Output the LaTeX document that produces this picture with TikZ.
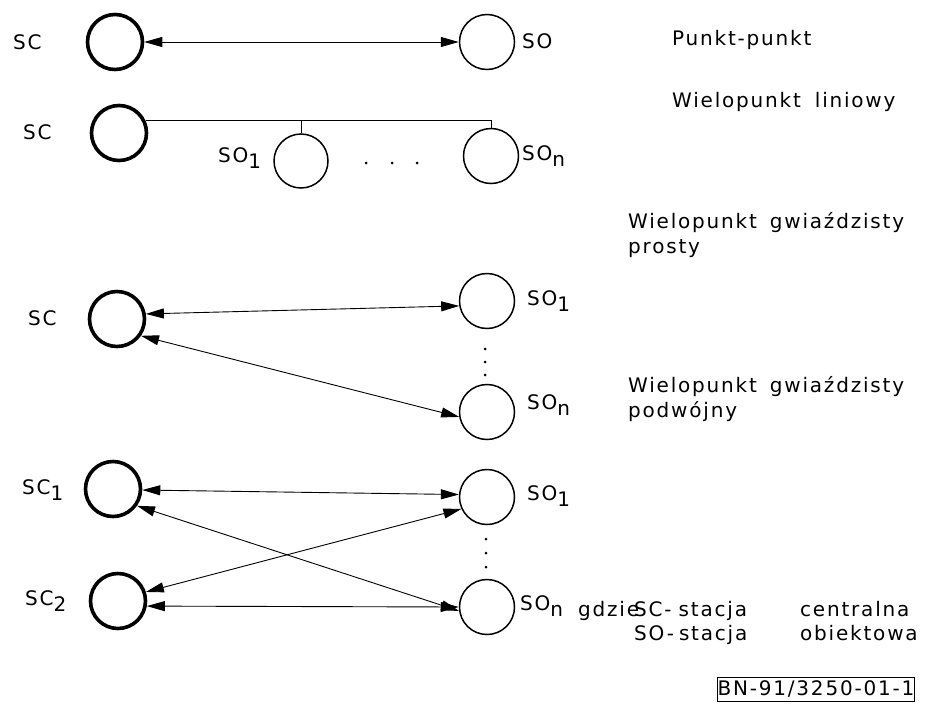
\documentclass[tikz,border=0pt]{standalone}
\usepackage{fontspec}
\setmainfont{DejaVu Sans}[LetterSpace=9]
\usetikzlibrary{arrows.meta}
\newcommand\lowsub[1]{\raisebox{-6pt}{#1}}
\begin{document}
\begin{tikzpicture}[x=1pt,y=-1pt,
  sc/.style={circle,draw,line width=3.6pt,minimum size=55pt,inner sep=0pt},
  so/.style={circle,draw,line width=1.5pt,minimum size=55pt,inner sep=0pt},
  txt/.style={inner sep=0pt,font=\fontsize{20}{24}\selectfont},
  lab/.style={txt,anchor=base west},
  link/.style={line width=0.9pt,{Triangle[length=18pt,width=10pt]}-{Triangle[length=18pt,width=10pt]}},
  wire/.style={line width=0.9pt},
  dotm/.style={circle,fill,inner sep=0pt,minimum size=3pt}]
\useasboundingbox (0,0) rectangle (928,715);
% Row 1: Punkt-punkt
\node[sc] (sca) at (115,42) {};
\node[so] (soa) at (487,42) {};
\draw[link] (sca) -- (soa);
\node[lab] (la1) at (13,49) {SC};
\node[lab] (la2) at (522,48) {SO};
\node[lab] (la3) at (672,45) {Punkt-punkt};
% Row 2: Wielopunkt liniowy
\node[sc] (scb) at (119,133) {};
\node[so,minimum size=54pt] (sob1) at (301,161) {};
\node[so] (sobn) at (491,156) {};
\draw[wire] (scb.25) -| (sobn.north);
\draw[wire] (sob1.north) -- (sob1.north |- scb.25);
\node[dotm] (db1) at (366,163) {};
\node[dotm] (db2) at (392,163) {};
\node[dotm] (db3) at (417,163) {};
\node[lab] (lb1) at (23,139) {SC};
\node[lab] (lb2) at (218,162) {SO\lowsub{1}};
\node[lab] (lb3) at (522,160) {SO\lowsub{n}};
\node[lab] (lb4) at (672,107) {Wielopunkt\hspace{14pt}liniowy};
% Row 3: Wielopunkt gwiazdzisty prosty
\node[sc] (scc) at (117,319) {};
\node[so] (soc1) at (487,301) {};
\node[so] (socn) at (487,412) {};
\draw[link] (scc.10) -- (soc1.190);
\draw[link] (scc.-35) -- (socn.190);
\node[dotm] (dc1) at (485,349) {};
\node[dotm] (dc2) at (485,362) {};
\node[dotm] (dc3) at (485,375) {};
\node[lab] (lc1) at (28,325) {SC};
\node[lab] (lc2) at (527,305) {SO\lowsub{1}};
\node[lab] (lc3) at (527,409) {SO\lowsub{n}};
\node[lab] (lc4) at (628,228) {Wielopunkt\hspace{13pt}gwiaździsty};
\node[lab] (lc5) at (628,253) {prosty};
% Row 4: Wielopunkt gwiazdzisty podwojny
\node[sc] (scd1) at (113,489) {};
\node[sc] (scd2) at (118,601) {};
\node[so] (sod1) at (487,497) {};
\node[so] (sodn) at (487,607) {};
\draw[link] (scd1.-2) -- (sod1.175);
\draw[link] (scd1.-35) -- (sodn.188);
\draw[link] (scd2.18) -- (sod1.205);
\draw[link] (scd2.-10) -- (sodn.180);
\node[dotm] (dd1) at (486,539) {};
\node[dotm] (dd2) at (486,553) {};
\node[dotm] (dd3) at (486,567) {};
\node[lab] (ld1) at (22,494) {SC\lowsub{1}};
\node[lab] (ld2) at (25,605) {SC\lowsub{2}};
\node[lab] (ld3) at (527,500) {SO\lowsub{1}};
\node[lab] (ld4) at (520,610) {SO\lowsub{n}};
\node[lab] (ld5) at (628,392) {Wielopunkt\hspace{13pt}gwiaździsty};
\node[lab] (ld6) at (628,417) {podwójny};
% Legend
\node[lab] (lg1) at (578,616) {gdzie};
\node[lab] (lg2) at (634,616) {SC-\hspace{7pt}stacja};
\node[lab] (lg3) at (800,616) {centralna};
\node[lab] (lg4) at (634,640) {SO-\hspace{5pt}stacja};
\node[lab] (lg5) at (800,640) {obiektowa};
\node[txt,draw,line width=0.8pt,minimum width=192pt,minimum height=24pt] (bn) at (816,689) {BN-91/3250-01-1};
\end{tikzpicture}
\end{document}
